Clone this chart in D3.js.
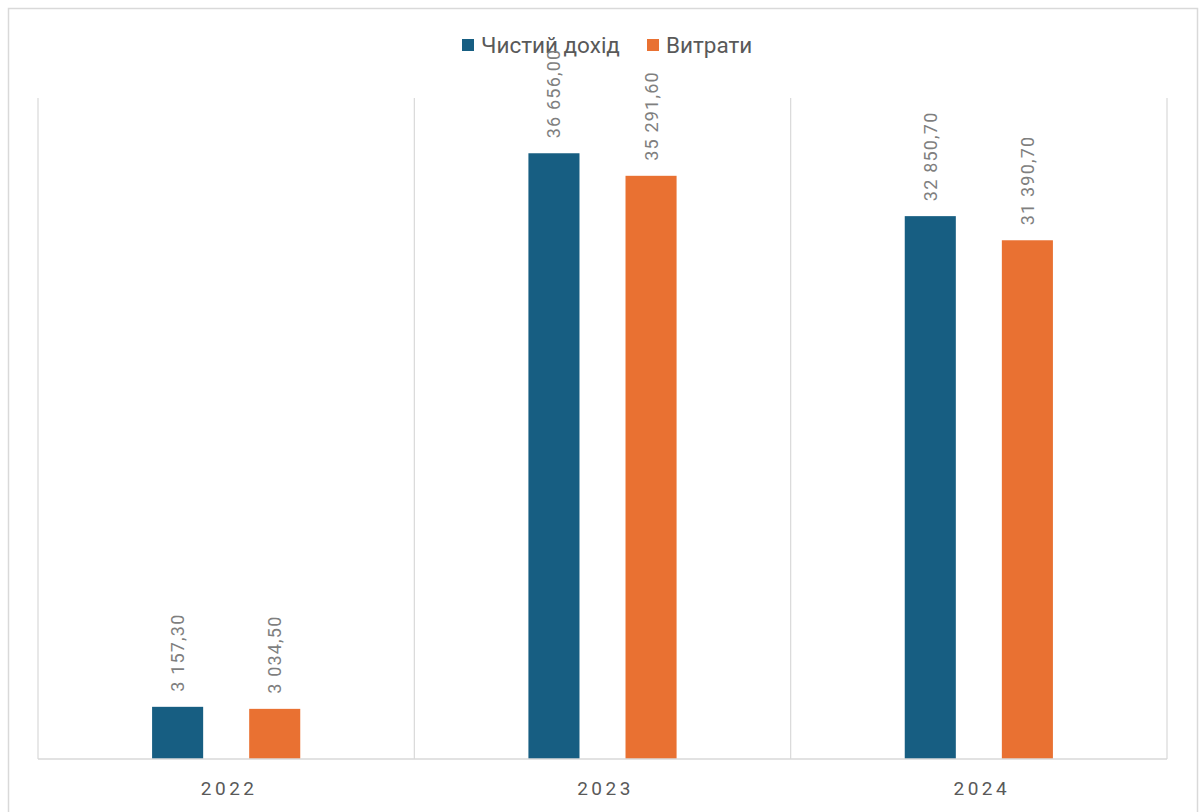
<!DOCTYPE html>
<html>
<head>
<meta charset="utf-8">
<script src="https://cdn.jsdelivr.net/npm/d3@7"></script>
<style>
  body { margin: 0; background: #fff; }
  svg { display: block; font-family: Roboto, "Noto Sans", sans-serif; }
</style>
</head>
<body>
<svg id="chart" width="1202" height="812"></svg>
<script>
// data
const years = ['2022', '2023', '2024'];
const series = ['Чистий дохід', 'Витрати'];
const income = [3157.3, 36656.0, 32850.7];
const costs = [3034.5, 35291.6, 31390.7];
const colors = ['#175e82', '#e97132'];

const svg = d3.select('#chart');

// outer frame
svg.append('rect')
    .attr('x', 8.5).attr('y', 8.5)
    .attr('width', 1189).attr('height', 820)
    .attr('fill', 'none')
    .attr('stroke', '#d9d9d9')
    .attr('stroke-width', 1.5);

const plotL = 38, plotR = 1167, plotT = 98, plotB = 759;

const x = d3.scaleBand().domain(years).range([plotL, plotR]);
const xInner = d3.scaleBand().domain(series).range([0, x.bandwidth()]).paddingInner(0.474).paddingOuter(1.175);
const y = d3.scaleLinear().domain([0, 40000]).range([plotB, plotT]);

// vertical separators between categories
const seps = [...years.map(d => x(d)), plotR];
svg.selectAll('.sep')
    .data(seps)
    .enter()
    .append('line')
    .attr('class', 'sep')
    .attr('x1', d => d).attr('x2', d => d)
    .attr('y1', plotT).attr('y2', plotB)
    .attr('stroke', '#d9d9d9')
    .attr('stroke-width', 1.2);

// rows: one per (year, series)
const rows = years.flatMap((yr, i) => [
    { year: yr, s: series[0], v: income[i], c: colors[0] },
    { year: yr, s: series[1], v: costs[i], c: colors[1] }
]);

svg.selectAll('.bar')
    .data(rows)
    .enter()
    .append('rect')
    .attr('class', 'bar')
    .attr('x', d => x(d.year) + xInner(d.s))
    .attr('y', d => y(d.v))
    .attr('width', xInner.bandwidth())
    .attr('height', d => y(0) - y(d.v))
    .attr('fill', d => d.c);

// baseline
svg.append('line')
    .attr('x1', plotL).attr('x2', plotR)
    .attr('y1', plotB).attr('y2', plotB)
    .attr('stroke', '#d9d9d9')
    .attr('stroke-width', 1.5);

// x labels
svg.selectAll('.xl')
    .data(years)
    .enter()
    .append('text')
    .attr('class', 'xl')
    .attr('x', d => x(d) + x.bandwidth() / 2 + 3)
    .attr('y', 795)
    .attr('text-anchor', 'middle')
    .attr('font-size', 19)
    .attr('letter-spacing', 3.5)
    .attr('fill', '#595959')
    .text(d => d);

// legend
const legendX = [462, 647];
const leg = svg.selectAll('.leg')
    .data(series)
    .enter()
    .append('g')
    .attr('class', 'leg')
    .attr('transform', (d, i) => `translate(${legendX[i]},39)`);
leg.append('rect')
    .attr('width', 12).attr('height', 12)
    .attr('fill', (d, i) => colors[i]);
leg.append('text')
    .attr('x', 19).attr('y', 14)
    .attr('font-size', 22.5)
    .attr('fill', '#595959')
    .text(d => d);

// value labels, rotated (drawn last, they overlap the legend like the original)
const fmt = v => d3.format(',.2f')(v).replace(/,/g, ' ').replace('.', ',');
svg.selectAll('.val')
    .data(rows)
    .enter()
    .append('text')
    .attr('class', 'val')
    .attr('transform', d => `translate(${x(d.year) + xInner(d.s) + xInner.bandwidth() / 2 + 6.5},${y(d.v) - 15}) rotate(-90)`)
    .attr('text-anchor', 'start')
    .attr('font-size', 18)
    .attr('letter-spacing', 1.2)
    .attr('fill', '#7f7f7f')
    .text(d => fmt(d.v));
</script>
</body>
</html>
